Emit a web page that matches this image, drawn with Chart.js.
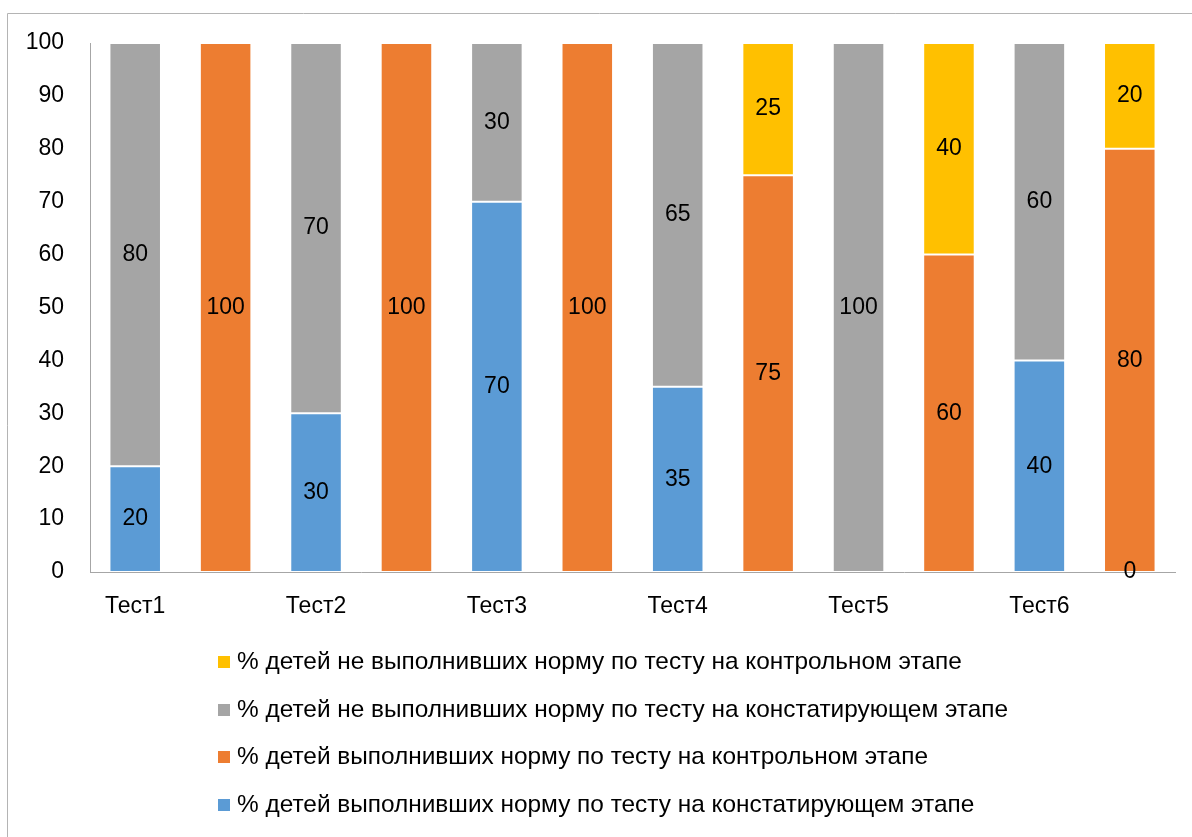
<!DOCTYPE html>
<html lang="ru">
<head>
<meta charset="UTF-8">
<title>Тесты</title>
<script src="https://cdn.jsdelivr.net/npm/chart.js@4.4.1/dist/chart.umd.min.js"></script>
<style>
  body { margin: 0; background: #fff; }
  #wrap { width: 1192px; height: 837px; }
</style>
</head>
<body>
<div id="wrap"><canvas id="myChart" width="1192" height="837"></canvas></div>
<script>
// категории: подписи только под каждым вторым столбцом
const labels = ['Тест1', '', 'Тест2', '', 'Тест3', '', 'Тест4', '', 'Тест5', '', 'Тест6', ''];

const blueVals   = [20, null, 30, null, 70, null, 35, null, null, null, 40, 0];
const orangeVals = [null, 100, null, 100, null, 100, null, 75, null, 60, null, 80];
const grayVals   = [80, null, 70, null, 30, null, 65, null, 100, null, 60, null];
const yellowVals = [null, null, null, null, null, null, null, 25, null, 40, null, 20];

const seriesNames = [
  '% детей выполнивших норму по тесту на констатирующем этапе',
  '% детей выполнивших норму по тесту на контрольном этапе',
  '% детей не выполнивших норму по тесту на констатирующем этапе',
  '% детей не выполнивших норму по тесту на контрольном этапе'
];

const FONT = 'Liberation Sans';

// подписи значений в центре сегментов
const valueLabels = {
  id: 'valueLabels',
  afterDatasetsDraw(chart) {
    const ctx = chart.ctx;
    ctx.save();
    ctx.font = '23px "' + FONT + '"';
    ctx.fillStyle = '#000';
    ctx.textAlign = 'center';
    ctx.textBaseline = 'middle';
    chart.data.datasets.forEach(function(ds, i) {
      const meta = chart.getDatasetMeta(i);
      meta.data.forEach(function(bar, j) {
        const v = ds.data[j];
        if (v === null || v === undefined) return;
        ctx.fillText(String(v), bar.x, (bar.y + bar.base) / 2);
      });
    });
    ctx.restore();
  }
};

// рамка и легенда в столбик, как в Excel
const frameAndLegend = {
  id: 'frameAndLegend',
  afterDraw(chart) {
    const ctx = chart.ctx;
    ctx.save();
    ctx.strokeStyle = '#b4b4b4';
    ctx.lineWidth = 1;
    ctx.beginPath();
    ctx.moveTo(7.5, 837);
    ctx.lineTo(7.5, 13.5);
    ctx.lineTo(1192, 13.5);
    ctx.stroke();

    const rows = [662, 710, 757, 805];
    const ds = chart.data.datasets.slice().reverse();
    ctx.font = '24.4px "' + FONT + '"';
    ctx.textAlign = 'left';
    ctx.textBaseline = 'middle';
    ds.forEach(function(d, k) {
      ctx.fillStyle = d.backgroundColor;
      ctx.fillRect(218, rows[k] - 6, 12, 12);
      ctx.fillStyle = '#000';
      ctx.fillText(d.label, 237, rows[k]);
    });
    ctx.restore();
  }
};

const ctx = document.getElementById('myChart').getContext('2d');
new Chart(ctx, {
  type: 'bar',
  data: {
    labels: labels,
    datasets: [
      { label: seriesNames[0], data: blueVals, backgroundColor: '#5B9BD5' },
      { label: seriesNames[1], data: orangeVals, backgroundColor: '#ED7D31' },
      { label: seriesNames[2], data: grayVals, backgroundColor: '#A5A5A5' },
      { label: seriesNames[3], data: yellowVals, backgroundColor: '#FFC000' }
    ].map(function(d) {
      d.borderColor = '#ffffff';
      d.borderWidth = 1;
      d.borderSkipped = false;
      d.categoryPercentage = 1;
      d.barPercentage = 0.57;
      return d;
    })
  },
  options: {
    responsive: false,
    animation: false,
    layout: { padding: { top: 43, right: 17, bottom: 205, left: 0 } },
    plugins: {
      legend: { display: false },
      tooltip: { enabled: false }
    },
    scales: {
      x: {
        stacked: true,
        grid: { display: false, drawTicks: false },
        border: { display: true, color: '#a6a6a6', width: 1 },
        ticks: {
          autoSkip: false, maxRotation: 0, padding: 21,
          color: '#000', font: { family: FONT, size: 23 }
        },
        afterFit(scale) { scale.height = 60; }
      },
      y: {
        stacked: true,
        min: 0, max: 100,
        grid: { display: false, drawTicks: false },
        border: { display: true, color: '#a6a6a6', width: 1 },
        ticks: {
          stepSize: 10, padding: 26,
          color: '#000', font: { family: FONT, size: 23 }
        },
        afterFit(scale) { scale.width = 90; }
      }
    }
  },
  plugins: [valueLabels, frameAndLegend]
});
</script>
</body>
</html>
